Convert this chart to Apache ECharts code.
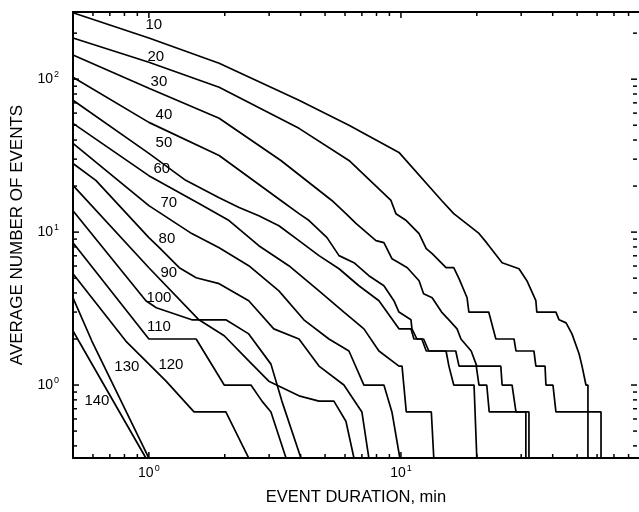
<!DOCTYPE html>
<html>
<head>
<meta charset="utf-8">
<script src="https://cdn.jsdelivr.net/npm/echarts@6/dist/echarts.min.js"></script>
<style>
  html, body { margin: 0; padding: 0; background: #fff; }
  #chart { width: 639px; height: 512px; }
</style>
</head>
<body>
<div id="chart"></div>
<script>
// Threshold levels, one curve each
const levels = ['10', '20', '30', '40', '50', '60', '70', '80', '90', '100', '110', '120', '130', '140'];

// [event duration (min), average number of events]
const c10 = [[0.5,272],[1,186],[1.9,127],[3.94,72.8],[6.22,49.9],[9.82,33.2],[14.5,16.1],[16.2,13.2],[20.4,9.8],[21.9,8.5],[25.2,6.3],[29.4,5.76],[31.6,4.81],[34.3,3.56],[34.6,3.0],[41.2,3.0],[42.4,2.67],[45.2,2.55],[47.7,2.16],[50.9,1.6],[52.3,1.33],[54.2,1.0],[55.2,1.0],[55.2,0.3333]];
const c20 = [[0.5,186],[1,129],[1.9,88.6],[3.94,47.7],[6.22,29.4],[9.13,16.1],[9.55,13.2],[10.5,11.9],[11.8,9.78],[12.6,7.8],[13.3,7.23],[15.1,5.85],[16.2,5.85],[17.0,4.96],[18.3,3.72],[18.6,3.0],[22.3,3.0],[23.8,2.0],[28.1,2.0],[28.6,1.67],[33.7,1.67],[34.3,1.33],[37.3,1.33],[37.6,1.0],[40.1,1.0],[41.2,0.667],[62.2,0.667],[62.2,0.3333]];
const c30 = [[0.5,144],[1,87.3],[1.9,55.5],[3.34,29.4],[5.32,16.1],[6.05,13.2],[6.63,11.4],[7.96,8.8],[8.56,8.53],[9.21,6.7],[9.82,6.31],[10.6,5.85],[11.8,4.81],[12.3,3.95],[13.3,3.72],[14.5,3.0],[15.5,2.67],[16.7,2.33],[17.3,2.0],[19.0,1.67],[20.0,1.33],[24.9,1.33],[25.2,1.0],[27.6,1.0],[28.6,0.667],[31.3,0.667],[31.3,0.3333]];
const c40 = [[0.5,103],[1,52.2],[1.9,31.7],[3.34,16.1],[3.94,13.2],[4.32,11.9],[5.09,9.2],[5.68,7.02],[6.51,6.31],[7.46,5.19],[8.56,4.46],[9.38,3.56],[9.82,3.0],[10.96,2.67],[11.06,2.33],[11.57,2.0],[12.1,2.0],[12.6,1.67],[15.1,1.67],[15.5,1.33],[16.2,1.0],[19.5,1.0],[20.0,0.3333]];
const c50 = [[0.5,72.8],[1,32.7],[1.4,21.8],[1.9,16.8],[2.28,14.5],[2.73,12.8],[3.28,11.0],[3.94,8.8],[4.73,7.02],[5.68,5.76],[6.81,4.46],[8.18,3.56],[9.82,2.33],[10.96,2.33],[11.26,2.0],[12.3,2.0],[12.9,1.67],[16.5,1.67],[17.0,1.33],[19.9,1.33],[20.4,1.0],[21.9,1.0],[22.4,0.667],[32.2,0.667],[32.2,0.3333]];
const c60 = [[0.5,51.4],[1,23.4],[1.58,15.4],[2.08,11.9],[2.73,8.15],[3.59,6.03],[4.73,4.13],[5.94,3.0],[7.13,2.33],[8.18,1.67],[9.82,1.33],[10.1,1.33],[10.5,0.667],[13.2,0.667],[13.5,0.3333]];
const c70 = [[0.5,38],[1,14.9],[1.48,9.78],[1.9,7.91],[2.49,6.03],[3.28,4.13],[4.12,2.67],[5.18,2.0],[6.22,1.67],[7.13,1.0],[8.56,1.0],[9.21,0.667],[9.9,0.3333]];
const c80 = [[0.5,28.1],[0.616,21.8],[1,9.2],[1.1,7.91],[1.32,5.85],[1.54,5.03],[1.9,4.6],[2.49,3.56],[3.13,2.33],[3.94,2.0],[4.73,1.33],[5.94,1.0],[7.0,0.667],[7.46,0.3333]];
const c90 = [[0.5,20.2],[1,5.85],[1.58,2.67],[1.99,2.1],[2.49,1.44],[2.99,1.06],[3.94,0.85],[4.73,0.785],[5.42,0.785],[6.05,0.58],[6.51,0.3333]];
const c100 = [[0.5,13.8],[0.973,3.56],[1.07,3.2],[1.48,2.67],[2.02,2.67],[2.49,2.16],[3.05,1.37],[3.37,0.785],[4.01,0.3333]];
const c110 = [[0.5,8.53],[1,2.0],[1.54,2.0],[1.99,1.0],[2.54,1.0],[2.81,0.785],[3.05,0.667],[3.5,0.3333]];
const c120 = [[0.5,5.35],[0.81,1.94],[1.17,1.06],[1.51,0.667],[2.02,0.667],[2.49,0.3333]];
const c130 = [[0.5,3.72],[0.594,1.94],[1.0,0.3333]];
const c140 = [[0.5,2.26],[0.527,1.94],[0.973,0.3333]];
const curveData = [c10, c20, c30, c40, c50, c60, c70, c80, c90, c100, c110, c120, c130, c140];

// Where each level's number sits (duration, average count)
const labelDur = [1.046, 1.066, 1.096, 1.147, 1.147, 1.126, 1.2, 1.179, 1.2, 1.096, 1.096, 1.223, 0.818, 0.622];
const labelAvg = [226, 139, 95.5, 58.1, 38.6, 26.1, 15.6, 9.06, 5.42, 3.72, 2.40, 1.35, 1.31, 0.785];

// Tick marks on the log axes
const xTicks = [0.6, 0.7, 0.8, 0.9, 1, 2, 3, 4, 5, 6, 7, 8, 9, 10, 20, 30, 40, 50, 60, 70, 80];
const yTicks = [0.4, 0.5, 0.6, 0.7, 0.8, 0.9, 1, 2, 3, 4, 5, 6, 7, 8, 9, 10, 20, 30, 40, 50, 60, 70, 80, 90, 100, 200];

const X_MIN = 0.5, X_MAX = 88, Y_MIN = 1 / 3, Y_MAX = 275;
const FONT = 'Liberation Sans, Arial, sans-serif';

function isPow10(v) {
  const e = Math.round(Math.log10(v));
  return Math.abs(v / Math.pow(10, e) - 1) < 1e-6 ? e : null;
}
function powLabel(v) {
  const e = isPow10(v);
  return e === null ? '' : '{b|10}{s|' + e + '}';
}
const powRich = {
  b: { fontSize: 14, fontFamily: FONT, color: '#000' },
  s: { fontSize: 9, fontFamily: FONT, color: '#000', verticalAlign: 'top', padding: [0, 0, 9, 1] }
};

// Inward tick marks drawn on both opposite sides of the frame
function tickSeries(values, dir) {
  return {
    type: 'custom',
    coordinateSystem: 'cartesian2d',
    silent: true,
    clip: false,
    z: 5,
    animation: false,
    data: values.map(v => dir === 'x' ? [v, 1] : [1, v]),
    renderItem(params, api) {
      const cs = params.coordSys;
      const p = api.coord([api.value(0), api.value(1)]);
      const major = isPow10(dir === 'x' ? api.value(0) : api.value(1)) !== null;
      const len = major ? 6 : 4;
      const st = { stroke: '#000', lineWidth: 1.5 };
      if (dir === 'x') {
        const x = p[0], yb = cs.y + cs.height, yt = cs.y;
        return { type: 'group', children: [
          { type: 'line', shape: { x1: x, y1: yb, x2: x, y2: yb - len }, style: st },
          { type: 'line', shape: { x1: x, y1: yt, x2: x, y2: yt + len }, style: st }
        ] };
      }
      const y = p[1], xl = cs.x, xr = cs.x + cs.width;
      return { type: 'group', children: [
        { type: 'line', shape: { x1: xl, y1: y, x2: xl + len, y2: y }, style: st },
        { type: 'line', shape: { x1: xr - 2, y1: y, x2: xr - 2 - len, y2: y }, style: st }
      ] };
    }
  };
}

const axisLine = { show: true, lineStyle: { color: '#000', width: 2 } };

const chart = echarts.init(document.getElementById('chart'), null, { renderer: 'canvas' });
chart.setOption({
  backgroundColor: '#fff',
  animation: false,
  grid: { left: 73, right: -1, top: 12, bottom: 54, containLabel: false },
  xAxis: [{
    type: 'log', logBase: 10, min: X_MIN, max: X_MAX, position: 'bottom',
    axisLine, axisTick: { show: false }, splitLine: { show: false },
    axisLabel: { formatter: powLabel, margin: 6, rich: powRich, showMinLabel: false, showMaxLabel: false },
    name: 'EVENT DURATION, min', nameLocation: 'middle', nameGap: 31,
    nameTextStyle: { fontFamily: FONT, fontSize: 16.5, color: '#000' }
  }, {
    type: 'log', logBase: 10, min: X_MIN, max: X_MAX, position: 'top',
    axisLine, axisTick: { show: false }, splitLine: { show: false }, axisLabel: { show: false }
  }],
  yAxis: [{
    type: 'log', logBase: 10, min: Y_MIN, max: Y_MAX, position: 'left',
    axisLine, axisTick: { show: false }, splitLine: { show: false },
    axisLabel: { formatter: powLabel, margin: 14, rich: powRich, showMinLabel: false, showMaxLabel: false },
    name: 'AVERAGE NUMBER OF EVENTS', nameLocation: 'middle', nameGap: 47,
    nameTextStyle: { fontFamily: FONT, fontSize: 17, color: '#000' }
  }, {
    type: 'log', logBase: 10, min: Y_MIN, max: Y_MAX, position: 'right',
    axisLine: { show: false }, axisTick: { show: false }, splitLine: { show: false }, axisLabel: { show: false }
  }],
  series: [
    ...curveData.map((d, i) => ({
      name: levels[i],
      type: 'line',
      data: d,
      showSymbol: false,
      symbol: 'none',
      lineStyle: { color: '#000', width: 1.7 },
      z: 2
    })),
    {
      type: 'scatter',
      data: levels.map((t, i) => ({ name: t, value: [labelDur[i], labelAvg[i]] })),
      symbolSize: 0,
      itemStyle: { color: '#000', opacity: 1 },
      label: { show: true, position: 'inside', formatter: '{b}', color: '#000', opacity: 1, fontSize: 15, fontFamily: FONT },
      z: 4
    },
    tickSeries(xTicks, 'x'),
    tickSeries(yTicks, 'y')
  ]
});
</script>
</body>
</html>
